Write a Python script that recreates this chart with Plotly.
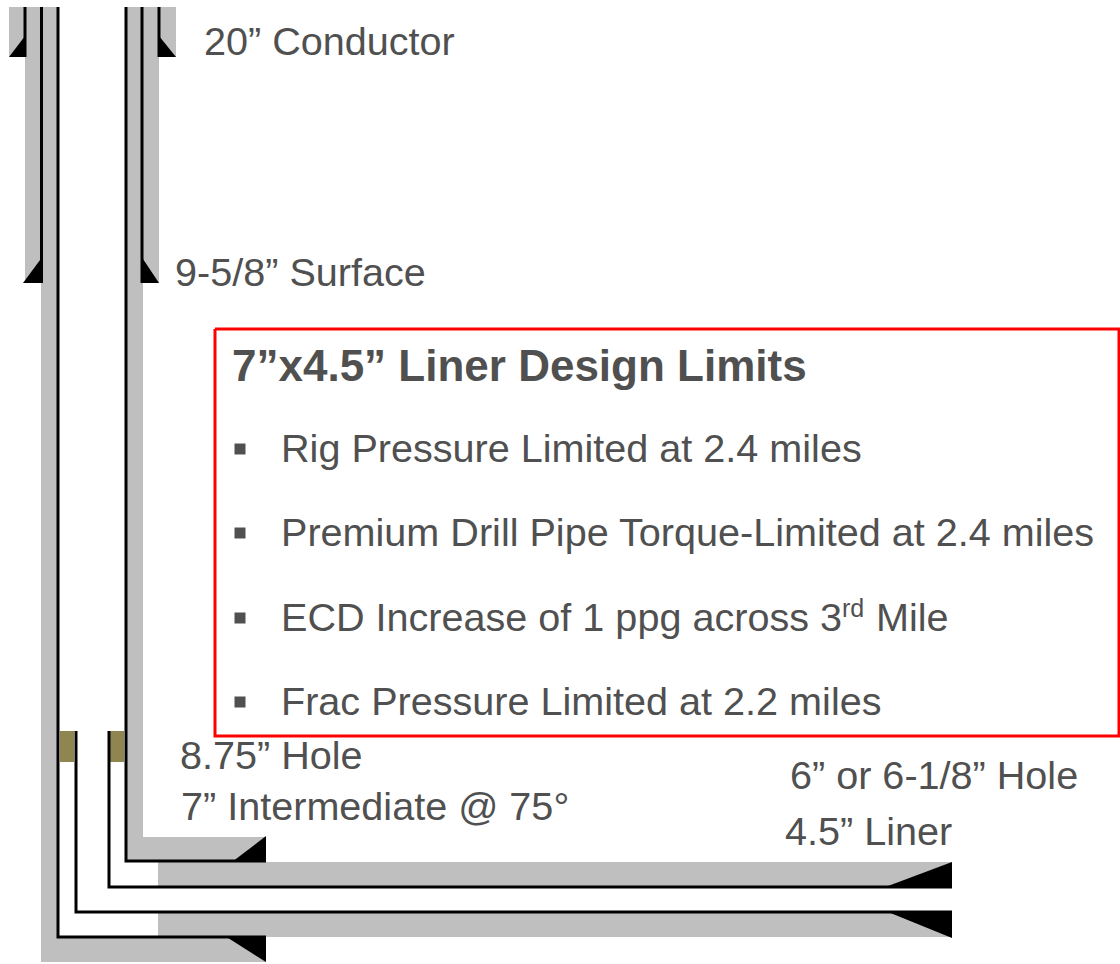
import plotly.graph_objects as go

GRAY = "#bfbfbf"
OLIVE = "#8f8550"
INK = "#505050"

# Cement / annulus regions as closed outlines
cond_left_x = [9, 25, 25, 9]
cond_left_y = [7, 7, 57, 57]
cond_right_x = [159, 176, 176, 159]
cond_right_y = [7, 7, 57, 57]
surf_left_x = [25, 41, 41, 25]
surf_left_y = [7, 7, 283, 283]
surf_right_x = [143, 159, 159, 143]
surf_right_y = [7, 7, 283, 283]
inter_outer_x = [41, 58, 58, 266, 266, 41]
inter_outer_y = [7, 7, 937, 937, 962, 962]
inter_inner_x = [125, 143, 143, 266, 266, 125]
inter_inner_y = [7, 7, 837, 837, 862, 862]
liner_upper_x = [158, 952, 952, 158]
liner_upper_y = [862, 862, 887, 887]
liner_lower_x = [158, 952, 952, 158]
liner_lower_y = [912, 912, 937, 937]
grey_regions = [
    (cond_left_x, cond_left_y), (cond_right_x, cond_right_y),
    (surf_left_x, surf_left_y), (surf_right_x, surf_right_y),
    (inter_outer_x, inter_outer_y), (inter_inner_x, inter_inner_y),
    (liner_upper_x, liner_upper_y), (liner_lower_x, liner_lower_y),
]

# Liner-top packer regions
packer_left_x = [60, 74, 74, 60]
packer_left_y = [731, 731, 762, 762]
packer_right_x = [110, 124, 124, 110]
packer_right_y = [731, 731, 762, 762]
olive_regions = [(packer_left_x, packer_left_y), (packer_right_x, packer_right_y)]

# Casing shoes
shoes = [
    ([9, 25, 25], [57, 57, 36]),
    ([159, 176, 159], [36, 57, 57]),
    ([23, 43, 43], [283, 283, 256]),
    ([141, 159, 141], [256, 283, 283]),
    ([232, 266, 266], [862, 862, 836]),
    ([225, 266, 266], [936, 936, 962]),
    ([888, 952, 952], [886, 886, 862]),
    ([888, 952, 952], [912, 912, 938]),
]

# Casing strings
casing_lines = [
    ([25, 25], [7, 57]),
    ([159, 159], [7, 57]),
    ([41.5, 41.5], [7, 283]),
    ([142, 142], [7, 283]),
    ([58, 58, 266], [7, 937, 937]),
    ([126, 126, 266], [7, 861, 861]),
    ([76, 76, 952], [731, 912, 912]),
    ([109, 109, 952], [731, 887, 887]),
]

box_x = [215, 1119, 1119, 215, 215]
box_y = [329, 329, 736, 736, 329]

bullet_x = [240, 240, 240, 240]
bullet_y = [449, 533, 618, 702]
bullet_text_y = [448, 532, 617, 701]
bullet_texts = [
    "Rig Pressure Limited at 2.4 miles",
    "Premium Drill Pipe Torque-Limited at 2.4 miles",
    "ECD Increase of 1 ppg across 3",
    "Frac Pressure Limited at 2.2 miles",
]
ordinal_text = "rd"
ordinal_x = 843
ordinal_y = 608
tail_text = "Mile"
tail_x = 877
tail_y = 617
label_texts = [
    "20” Conductor", "9-5/8” Surface", "8.75” Hole",
    "7” Intermediate @ 75°", "6” or 6-1/8” Hole", "4.5” Liner",
]
label_x = [205, 176, 181, 182, 791, 786]
label_y = [41, 272, 755, 806, 775, 831]
title_text = "<b>7”x4.5” Liner Design Limits</b>"

fig = go.Figure()
for x, y in grey_regions:
    fig.add_trace(go.Scatter(x=x, y=y, fill="toself", fillcolor=GRAY, mode="none", hoverinfo="skip"))
for x, y in olive_regions:
    fig.add_trace(go.Scatter(x=x, y=y, fill="toself", fillcolor=OLIVE, mode="none", hoverinfo="skip"))
for x, y in shoes:
    fig.add_trace(go.Scatter(x=x, y=y, fill="toself", fillcolor="#000000", mode="none", hoverinfo="skip"))
for x, y in casing_lines:
    fig.add_trace(go.Scatter(x=x, y=y, mode="lines", line=dict(color="#000000", width=3), hoverinfo="skip"))
fig.add_trace(go.Scatter(x=box_x, y=box_y, mode="lines", line=dict(color="#ff0000", width=3), hoverinfo="skip"))
fig.add_trace(go.Scatter(x=bullet_x, y=bullet_y, mode="markers",
                         marker=dict(symbol="square", size=11, color=INK), hoverinfo="skip"))

FONT = "Liberation Sans, Arial, sans-serif"
BODY = 39.6
def note(t, x, y, size):
    fig.add_annotation(x=x, y=y, text=t, showarrow=False, xanchor="left", yanchor="middle",
                       xshift=-3, font=dict(family=FONT, size=size, color=INK))

for t, x, y in zip(label_texts, label_x, label_y):
    note(t, x, y, BODY)
for t, y in zip(bullet_texts, bullet_text_y):
    note(t, 282, y, BODY)
note(ordinal_text, ordinal_x, ordinal_y, 25)
note(tail_text, tail_x, tail_y, BODY)
note(title_text, 233, 365, 44)

fig.update_layout(
    width=1120, height=964, showlegend=False,
    margin=dict(l=0, r=0, t=0, b=0),
    paper_bgcolor="#ffffff", plot_bgcolor="#ffffff",
    xaxis=dict(range=[0, 1120], visible=False, fixedrange=True),
    yaxis=dict(range=[964, 0], visible=False, fixedrange=True),
)
fig.write_html("out.html", config={"displayModeBar": False},
               post_script="document.body.style.margin='0';document.documentElement.style.overflow='hidden';")
